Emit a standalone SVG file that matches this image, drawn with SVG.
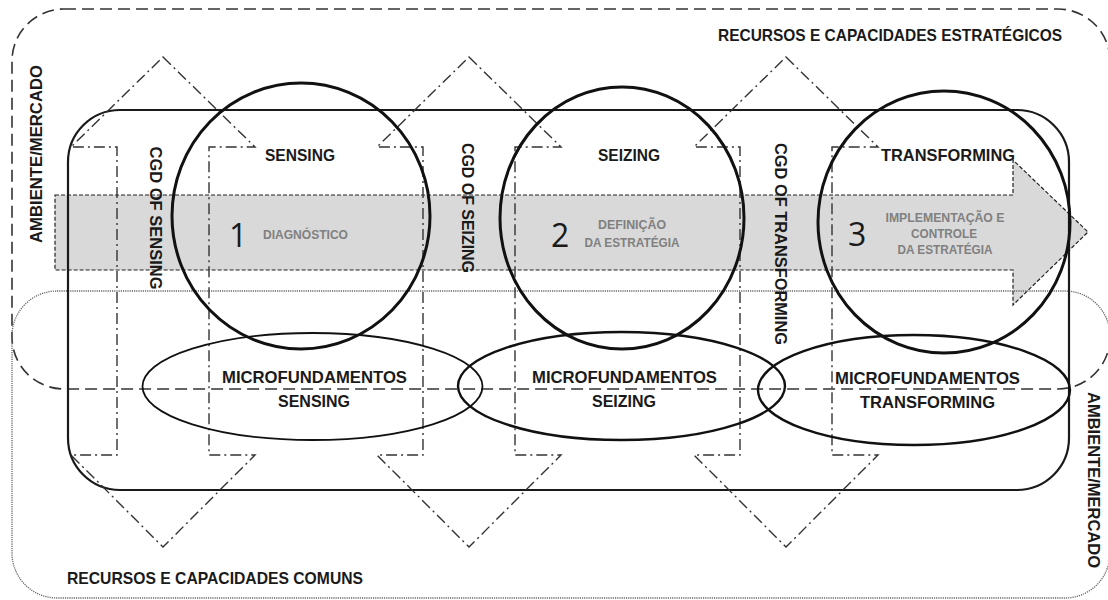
<svg xmlns="http://www.w3.org/2000/svg" width="1108" height="600" viewBox="0 0 1108 600">
<style>
text{font-family:"Liberation Sans","Noto Sans",Arial,sans-serif;font-weight:bold;fill:#1a1a1a}
.lbl{font-size:16.5px}
.mid{text-anchor:middle}
.num{font-family:"Open Sans","Noto Sans",sans-serif;font-size:32px;font-weight:normal;fill:#1a1a1a}
.gray{font-size:13px;fill:#808080}
.dashbox{fill:none;stroke:#333;stroke-width:1.6;stroke-dasharray:12 6}
.dotbox{fill:none;stroke:#666;stroke-width:1.3;stroke-dasharray:1.2 1}
.main{fill:none;stroke:#1a1a1a;stroke-width:2.2}
.dd{fill:none;stroke:#333;stroke-width:1.4;stroke-dasharray:11 4 2 4}
.circ{fill:none;stroke:#111;stroke-width:3}
.ell{fill:none;stroke:#111;stroke-width:2.4}
.band{fill:#d9d9d9;stroke:#222;stroke-width:1.2;stroke-dasharray:4 2}
</style>
<defs>
<path id="dblArrow" d="M0,57 L92,147 L46,147 L46,455 L92,455 L0,547 L-92,455 L-46,455 L-46,147 L-92,147 Z"/>
</defs>

<g id="process-arrow">
<polygon class="band" points="55,195 1013,195 1013,160 1088,232 1013,305 1013,270 55,270"/>
</g>

<g id="recursos-estrategicos">
<rect class="dashbox" x="12" y="9" width="1098" height="380" rx="52" ry="52"/>
<text class="lbl" x="718" y="41" textLength="344" lengthAdjust="spacingAndGlyphs">RECURSOS E CAPACIDADES ESTRATÉGICOS</text>
</g>

<g id="recursos-comuns">
<rect class="dotbox" x="12" y="291" width="1098" height="307" rx="45" ry="45"/>
<text class="lbl" x="67" y="584" textLength="296" lengthAdjust="spacingAndGlyphs">RECURSOS E CAPACIDADES COMUNS</text>
</g>

<g id="organizacao">
<rect class="main" x="68" y="110" width="1001" height="380" rx="52" ry="52"/>
</g>

<g id="connectors">
<use href="#dblArrow" class="dd" transform="translate(163,0)"/>
<use href="#dblArrow" class="dd" transform="translate(469,0)"/>
<use href="#dblArrow" class="dd" transform="translate(786,0)"/>
</g>

<g id="ambiente-esq">
<text class="lbl mid" transform="translate(42,154) rotate(-90)" textLength="178" lengthAdjust="spacingAndGlyphs">AMBIENTE/MERCADO</text>
</g>
<g id="ambiente-dir">
<text class="lbl mid" transform="translate(1088,480) rotate(90)" textLength="176" lengthAdjust="spacingAndGlyphs">AMBIENTE/MERCADO</text>
</g>

<g id="cgd-sensing">
<text class="lbl mid" transform="translate(150,218) rotate(90)" textLength="143" lengthAdjust="spacingAndGlyphs">CGD OF SENSING</text>
</g>
<g id="cgd-seizing">
<text class="lbl mid" transform="translate(462,208) rotate(90)" textLength="130" lengthAdjust="spacingAndGlyphs">CGD OF SEIZING</text>
</g>
<g id="cgd-transforming">
<text class="lbl mid" transform="translate(775,244) rotate(90)" textLength="202" lengthAdjust="spacingAndGlyphs">CGD OF TRANSFORMING</text>
</g>

<g id="sensing">
<ellipse class="circ" cx="301" cy="216" rx="129" ry="133"/>
<text class="lbl mid" x="300" y="161" textLength="70" lengthAdjust="spacingAndGlyphs">SENSING</text>
<text class="num" x="229" y="247">1</text>
<text class="gray" x="263" y="239" textLength="85" lengthAdjust="spacingAndGlyphs">DIAGNÓSTICO</text>
</g>

<g id="seizing">
<ellipse class="circ" cx="622" cy="218" rx="122" ry="131"/>
<text class="lbl mid" x="629" y="161" textLength="62" lengthAdjust="spacingAndGlyphs">SEIZING</text>
<text class="num" x="551" y="247">2</text>
<text class="gray mid" x="632" y="229" textLength="68" lengthAdjust="spacingAndGlyphs">DEFINIÇÃO</text>
<text class="gray mid" x="632" y="247" textLength="95" lengthAdjust="spacingAndGlyphs">DA ESTRATÉGIA</text>
</g>

<g id="transforming">
<ellipse class="circ" cx="944" cy="222" rx="126" ry="131"/>
<text class="lbl mid" x="948" y="161" textLength="134" lengthAdjust="spacingAndGlyphs">TRANSFORMING</text>
<text class="num" x="848" y="246">3</text>
<text class="gray mid" x="945" y="222" textLength="119" lengthAdjust="spacingAndGlyphs">IMPLEMENTAÇÃO E</text>
<text class="gray mid" x="944" y="238" textLength="66" lengthAdjust="spacingAndGlyphs">CONTROLE</text>
<text class="gray mid" x="945" y="254" textLength="95" lengthAdjust="spacingAndGlyphs">DA ESTRATÉGIA</text>
</g>

<g id="micro-sensing">
<ellipse class="ell" cx="312.5" cy="386.5" rx="170" ry="53.5" style="stroke-width:1.8"/>
<text class="lbl mid" x="314.5" y="383" textLength="185" lengthAdjust="spacingAndGlyphs">MICROFUNDAMENTOS</text>
<text class="lbl mid" x="314" y="407" textLength="72" lengthAdjust="spacingAndGlyphs">SENSING</text>
</g>

<g id="micro-seizing">
<ellipse class="ell" cx="621.5" cy="386" rx="163.5" ry="54"/>
<text class="lbl mid" x="624.5" y="383" textLength="185" lengthAdjust="spacingAndGlyphs">MICROFUNDAMENTOS</text>
<text class="lbl mid" x="624" y="407" textLength="64" lengthAdjust="spacingAndGlyphs">SEIZING</text>
</g>

<g id="micro-transforming">
<ellipse class="ell" cx="914" cy="390" rx="156" ry="55"/>
<text class="lbl mid" x="927.5" y="384" textLength="185" lengthAdjust="spacingAndGlyphs">MICROFUNDAMENTOS</text>
<text class="lbl mid" x="927.5" y="408" textLength="135" lengthAdjust="spacingAndGlyphs">TRANSFORMING</text>
</g>
</svg>
